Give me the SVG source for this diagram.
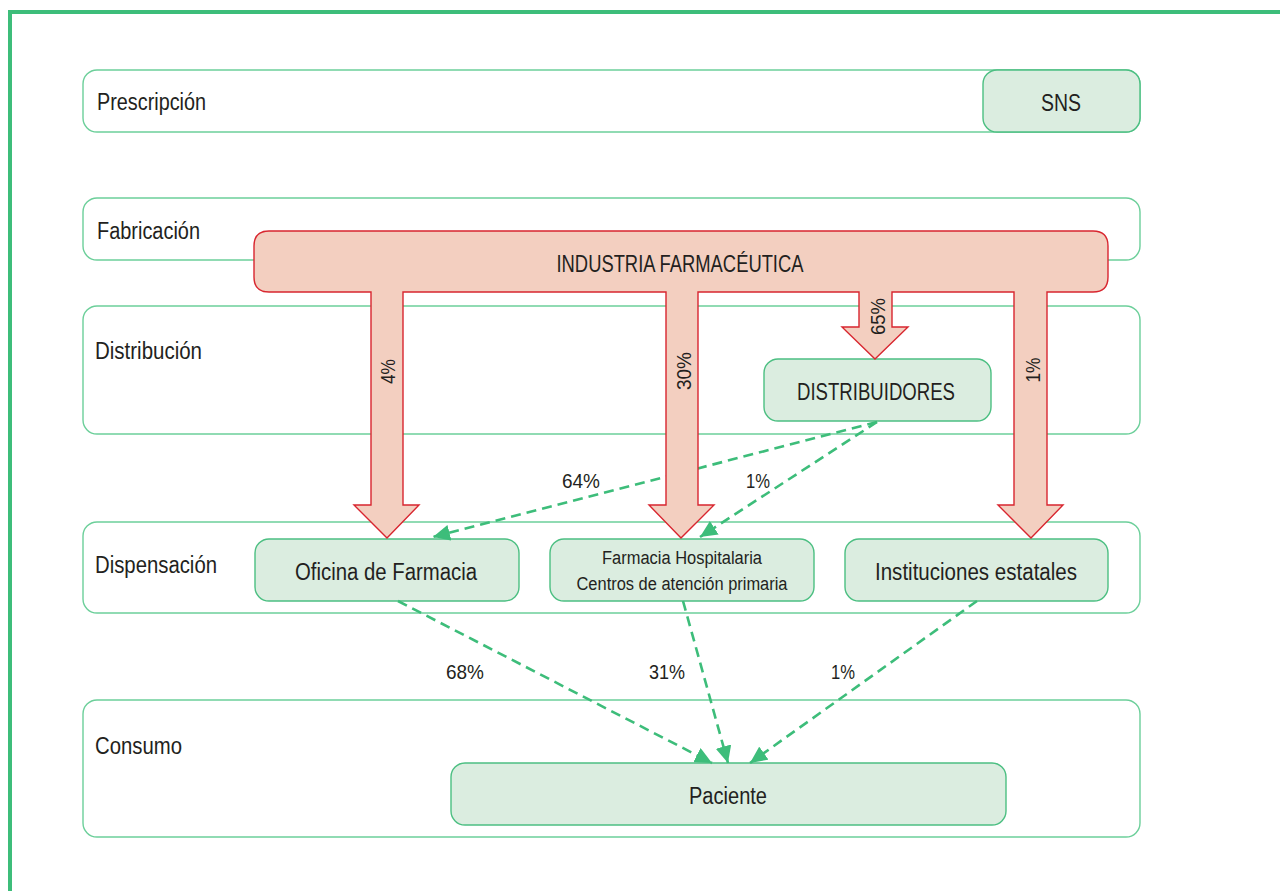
<svg xmlns="http://www.w3.org/2000/svg" width="1280" height="891" viewBox="0 0 1280 891">
  <style>
    .lane { fill: #ffffff; stroke: #6ccf9a; stroke-width: 1.4; }
    .node { fill: #dbede0; stroke: #4cbf82; stroke-width: 1.4; }
    .ind { fill: #f3cfc0; stroke: #d8262f; stroke-width: 1.4; stroke-linejoin: miter; }
    .t { font-family: "Liberation Sans", Arial, sans-serif; font-size: 23px; fill: #231f20; }
    .c { text-anchor: middle; }
    .s { font-size: 18px; }
    .p { font-size: 21px; }
    .flow { fill: none; stroke: #3dbd7a; stroke-width: 2.6; stroke-dasharray: 10 6; marker-end: url(#ah); }
  </style>
  <defs>
    <marker id="ah" markerUnits="userSpaceOnUse" markerWidth="18" markerHeight="16" viewBox="0 0 18 16" refX="17" refY="8" orient="auto">
      <path d="M0,0 L17,8 L0,16 Z" fill="#3dbd7a"/>
    </marker>
  </defs>

  <rect width="1280" height="891" fill="#ffffff"/>
  <!-- outer frame -->
  <rect x="10" y="12" width="1300" height="900" fill="none" stroke="#3dbd7a" stroke-width="4"/>

  <!-- swimlanes -->
  <g id="lane-prescripcion">
    <rect class="lane" x="83" y="70" width="1057" height="62" rx="14"/>
    <text class="t" x="97" y="110" textLength="109" lengthAdjust="spacingAndGlyphs">Prescripción</text>
  </g>
  <g id="lane-fabricacion">
    <rect class="lane" x="83" y="198" width="1057" height="62" rx="14"/>
    <text class="t" x="97" y="239" textLength="103" lengthAdjust="spacingAndGlyphs">Fabricación</text>
  </g>
  <g id="lane-distribucion">
    <rect class="lane" x="83" y="306" width="1057" height="128" rx="14"/>
    <text class="t" x="95" y="359" textLength="107" lengthAdjust="spacingAndGlyphs">Distribución</text>
  </g>
  <g id="lane-dispensacion">
    <rect class="lane" x="83" y="522" width="1057" height="91" rx="14"/>
    <text class="t" x="95" y="573" textLength="122" lengthAdjust="spacingAndGlyphs">Dispensación</text>
  </g>
  <g id="lane-consumo">
    <rect class="lane" x="83" y="700" width="1057" height="137" rx="14"/>
    <text class="t" x="95" y="754" textLength="87" lengthAdjust="spacingAndGlyphs">Consumo</text>
  </g>

  <!-- nodes -->
  <g id="sns">
    <rect class="node" x="983" y="70" width="157" height="62" rx="14"/>
    <text class="t c" x="1061" y="111" textLength="40" lengthAdjust="spacingAndGlyphs">SNS</text>
  </g>
  <g id="distribuidores">
    <rect class="node" x="764" y="359" width="227" height="62" rx="14"/>
    <text class="t c" x="876" y="400" textLength="158" lengthAdjust="spacingAndGlyphs">DISTRIBUIDORES</text>
  </g>
  <g id="oficina-farmacia">
    <rect class="node" x="255" y="539" width="264" height="62" rx="14"/>
    <text class="t c" x="386" y="580" textLength="182" lengthAdjust="spacingAndGlyphs">Oficina de Farmacia</text>
  </g>
  <g id="farmacia-hospitalaria">
    <rect class="node" x="550" y="539" width="264" height="62" rx="14"/>
    <text class="t c s" x="682" y="564" textLength="160" lengthAdjust="spacingAndGlyphs">Farmacia Hospitalaria</text>
    <text class="t c s" x="682" y="590" textLength="211" lengthAdjust="spacingAndGlyphs">Centros de atención primaria</text>
  </g>
  <g id="instituciones">
    <rect class="node" x="845" y="539" width="263" height="62" rx="14"/>
    <text class="t c" x="976" y="580" textLength="202" lengthAdjust="spacingAndGlyphs">Instituciones estatales</text>
  </g>
  <g id="paciente">
    <rect class="node" x="451" y="763" width="555" height="62" rx="14"/>
    <text class="t c" x="728" y="804" textLength="78" lengthAdjust="spacingAndGlyphs">Paciente</text>
  </g>

  <!-- dashed flows -->
  <g id="connectors">
    <path class="flow" d="M877,422 L433,537"/>
    <path class="flow" d="M877,422 L700,537"/>
    <path class="flow" d="M398,601 L712,763"/>
    <path class="flow" d="M683,601 L728,763"/>
    <path class="flow" d="M977,601 L750,763"/>
    <text class="t c p" x="581" y="488" textLength="38" lengthAdjust="spacingAndGlyphs">64%</text>
    <text class="t c p" x="758" y="488" textLength="24" lengthAdjust="spacingAndGlyphs">1%</text>
    <text class="t c p" x="465" y="679" textLength="38" lengthAdjust="spacingAndGlyphs">68%</text>
    <text class="t c p" x="667" y="679" textLength="36" lengthAdjust="spacingAndGlyphs">31%</text>
    <text class="t c p" x="843" y="679" textLength="24" lengthAdjust="spacingAndGlyphs">1%</text>
  </g>

  <!-- manufacturer block with its supply arrows -->
  <g id="industria">
    <path class="ind" d="M269,231 H1093 Q1108,231 1108,246 V277 Q1108,292 1093,292 H1047 V505 H1063 L1031,538 L998,505 H1014 V292 H892 V327 H908 L875,359 L842,327 H859 V292 H698 V505 H714 L681,538 L649,505 H666 V292 H403 V505 H419 L387,538 L354,505 H371 V292 H269 Q254,292 254,277 V246 Q254,231 269,231 Z"/>
    <text class="t c" x="680" y="272" textLength="247" lengthAdjust="spacingAndGlyphs">INDUSTRIA FARMACÉUTICA</text>
    <text class="t c p" transform="translate(395,371.5) rotate(-90)" textLength="25" lengthAdjust="spacingAndGlyphs">4%</text>
    <text class="t c p" transform="translate(691,371) rotate(-90)" textLength="38" lengthAdjust="spacingAndGlyphs">30%</text>
    <text class="t c p" transform="translate(885,316.5) rotate(-90)" textLength="37" lengthAdjust="spacingAndGlyphs">65%</text>
    <text class="t c p" transform="translate(1040,370) rotate(-90)" textLength="25" lengthAdjust="spacingAndGlyphs">1%</text>
  </g>
</svg>
